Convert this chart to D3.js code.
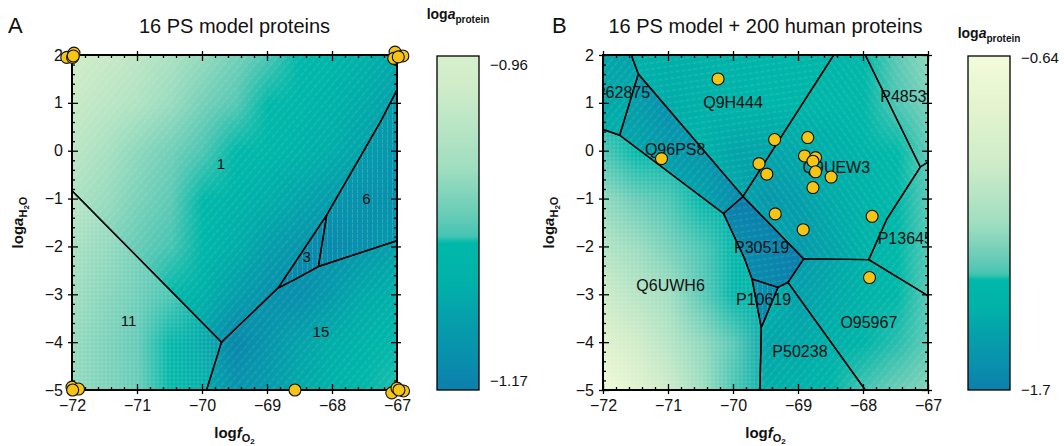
<!DOCTYPE html>
<html>
<head>
<meta charset="utf-8">
<script src="https://cdn.jsdelivr.net/npm/d3@7"></script>
<style>
  body { margin: 0; background: #fff; }
  text { font-family: "Liberation Sans", Arial, sans-serif; }
</style>
</head>
<body>
<div id="chart"></div>
<script>
// axis ticks
const xTicks = [-72, -71, -70, -69, -68, -67];
const yTicks = [2, 1, 0, -1, -2, -3, -4, -5];

// grid of the raster (logfO2 columns, logaH2O rows)
const gridX = [-72, -71.5, -71, -70.5, -70, -69.5, -69, -68.5, -68, -67.5, -67];
const gridY = [2, 1, 0, -1, -2, -3, -4, -5];

// loga(protein)
const fieldA = [
  [-0.974, -0.987, -1.0, -1.018, -1.036, -1.053, -1.07, -1.079, -1.087, -1.1, -1.114],
  [-0.987, -1.0, -1.013, -1.033, -1.053, -1.066, -1.078, -1.087, -1.097, -1.11, -1.122],
  [-1.0, -1.02, -1.04, -1.055, -1.07, -1.078, -1.085, -1.096, -1.108, -1.12, -1.13],
  [-1.015, -1.033, -1.05, -1.063, -1.078, -1.092, -1.105, -1.118, -1.13, -1.135, -1.135],
  [-1.03, -1.045, -1.06, -1.072, -1.085, -1.105, -1.125, -1.14, -1.145, -1.135, -1.12],
  [-1.038, -1.052, -1.065, -1.08, -1.1, -1.125, -1.145, -1.15, -1.13, -1.11, -1.1],
  [-1.045, -1.057, -1.07, -1.09, -1.12, -1.16, -1.14, -1.12, -1.105, -1.092, -1.08],
  [-1.045, -1.057, -1.068, -1.088, -1.11, -1.14, -1.13, -1.11, -1.095, -1.085, -1.075]
];

// loga(protein) (darker fields add their own offset below)
const fieldB = [
  [-1.41, -1.44, -1.45, -1.43, -1.41, -1.40, -1.39, -1.38, -1.36, -1.30, -1.20],
  [-1.41, -1.38, -1.47, -1.43, -1.40, -1.39, -1.38, -1.38, -1.36, -1.32, -1.25],
  [-1.33, -1.35, -1.40, -1.42, -1.50, -1.50, -1.48, -1.45, -1.40, -1.35, -1.29],
  [-1.20, -1.28, -1.33, -1.36, -1.47, -1.58, -1.53, -1.47, -1.42, -1.36, -1.30],
  [-1.10, -1.18, -1.26, -1.33, -1.38, -1.41, -1.56, -1.50, -1.42, -1.35, -1.31],
  [-0.99, -1.08, -1.17, -1.30, -1.38, -1.40, -1.52, -1.48, -1.42, -1.36, -1.30],
  [-0.84, -0.96, -1.085, -1.20, -1.31, -1.50, -1.48, -1.44, -1.40, -1.34, -1.29],
  [-0.67, -0.83, -0.99, -1.17, -1.33, -1.45, -1.42, -1.37, -1.33, -1.27, -1.23]
];

const rangeA = [-0.96, -1.17];
const rangeB = [-0.64, -1.7];

// stability fields, panel A
const namesA = ["1", "11", "15", "3", "6"];
const labelPosA = [[-69.71, -0.26], [-71.13, -3.54], [-68.17, -3.78], [-68.39, -2.21], [-67.47, -1.01]];
const polysA = [
  [[-72, 2], [-67, 2], [-67, 1.27], [-67.24, 0.64], [-68.08, -1.34], [-68.83, -2.87], [-69.7, -4.0], [-72, -0.835]],
  [[-72, -0.835], [-69.7, -4.0], [-69.93, -5], [-72, -5]],
  [[-69.7, -4.0], [-68.83, -2.87], [-68.57, -2.69], [-68.21, -2.42], [-67, -1.88], [-67, -5], [-69.93, -5]],
  [[-68.83, -2.87], [-68.08, -1.34], [-68.21, -2.42], [-68.57, -2.69]],
  [[-68.08, -1.34], [-67.24, 0.64], [-67, 1.27], [-67, -1.88], [-68.21, -2.42]]
];
const hatchA = ["diag", "grid", "diag", "vert", "vert"];
const offsetA = [0, 0.008, 0, -0.012, -0.01];

// stability fields, panel B
const namesB = ["P62875", "Q9H444", "Q96PS8", "Q6UWH6", "P30519", "P10619", "P50238", "O95967", "P13645", "Q9UEW3", "P48539"];
const labelPosB = [[-71.70, 1.23], [-70.0, 1.02], [-70.89, 0.04], [-70.96, -2.81], [-69.56, -2.02], [-69.53, -3.10],
                   [-68.97, -4.20], [-67.91, -3.59], [-67.35, -1.83], [-68.41, -0.35], [-67.31, 1.13]];
const polysB = [
  [[-72, 2], [-71.565, 2], [-71.457, 1.602], [-71.743, 0.323], [-72, 0.443]],
  [[-71.565, 2], [-68.451, 2], [-69.846, -0.955], [-71.457, 1.602]],
  [[-71.457, 1.602], [-69.846, -0.955], [-70.146, -1.312], [-71.743, 0.323]],
  [[-72, 0.443], [-71.743, 0.323], [-70.146, -1.312], [-69.82, -2.261], [-69.708, -2.68], [-69.565, -3.695], [-69.585, -5], [-72, -5]],
  [[-70.146, -1.312], [-69.846, -0.955], [-68.912, -2.261], [-69.154, -2.752], [-69.308, -2.856], [-69.708, -2.68], [-69.82, -2.261]],
  [[-69.708, -2.68], [-69.308, -2.856], [-69.565, -3.695]],
  [[-69.565, -3.695], [-69.308, -2.856], [-69.154, -2.752], [-67.965, -5], [-69.585, -5]],
  [[-69.154, -2.752], [-68.912, -2.261], [-67.912, -2.276], [-67, -3.03], [-67, -5], [-67.965, -5]],
  [[-67.912, -2.276], [-67.631, -1.423], [-67.119, -0.341], [-67, -0.236], [-67, -3.03]],
  [[-68.451, 2], [-67.965, 2], [-67.119, -0.341], [-67.631, -1.423], [-67.912, -2.276], [-68.912, -2.261], [-69.846, -0.955]],
  [[-67.965, 2], [-67, 2], [-67, -0.236], [-67.119, -0.341]]
];
const hatchB = ["diag", "horiz", "diag", "grid", "horiz", "vert", "diag", "diag", "diag", "back", "back"];
const offsetB = [-0.08, 0, -0.15, 0, -0.25, -0.22, 0, 0, 0, 0, 0];

// optimal points of the 16 PS model proteins
const pointsA = [
  [-72.08, 1.95], [-71.97, 2.04], [-71.99, 1.95], [-71.98, 1.98],
  [-67.03, 2.06], [-67.05, 1.93], [-66.91, 1.98], [-66.98, 1.96],
  [-72.0, -4.94], [-71.9, -4.98], [-71.99, -5.0],
  [-68.57, -5.0],
  [-67.08, -5.06], [-67.0, -4.96], [-66.9, -5.02], [-66.97, -5.0]
];
const pointsB = [
  [-70.23, 1.50], [-71.10, -0.165], [-69.60, -0.27], [-69.48, -0.49], [-69.36, 0.233], [-68.85, 0.275],
  [-68.90, -0.11], [-68.73, -0.144], [-68.77, -0.22], [-68.73, -0.44], [-68.49, -0.55], [-68.77, -0.77],
  [-69.35, -1.32], [-68.92, -1.65], [-67.86, -1.37], [-67.90, -2.65]
];

// colour ramp (light yellow -> teal -> blue)
const paletteStops = [0, 0.15, 0.33, 0.5, 0.6, 0.655, 0.668, 0.76, 0.83, 0.93, 1];
const paletteColors = ["#f3fbda", "#e4f4cf", "#cdebc8", "#a0dec0", "#6ccdb8", "#45c4b3", "#00b9a9", "#01b1a9", "#05a1ab", "#098fad", "#0c7fac"];
const palette = d3.scaleLinear().domain(paletteStops).range(paletteColors).interpolate(d3.interpolateRgb).clamp(true);

const svg = d3.select("#chart").append("svg")
    .attr("width", 1064)
    .attr("height", 446);

const defs = svg.append("defs");

// hatch textures
function addPattern(id, size, transform, draw) {
  const p = defs.append("pattern")
      .attr("id", id)
      .attr("patternUnits", "userSpaceOnUse")
      .attr("width", size).attr("height", size);
  if (transform) p.attr("patternTransform", transform);
  draw(p);
}
const hatchStyle = s => s.attr("stroke", "#fff").attr("stroke-opacity", 0.2).attr("stroke-width", 0.8);
addPattern("hatch-diag", 6, "rotate(40)", p => hatchStyle(p.append("line").attr("x1", 3).attr("y1", 0).attr("x2", 3).attr("y2", 6).attr("stroke-dasharray", "3,1.5")));
addPattern("hatch-back", 6, "rotate(-35)", p => hatchStyle(p.append("line").attr("x1", 3).attr("y1", 0).attr("x2", 3).attr("y2", 6).attr("stroke-dasharray", "3,1.5")));
addPattern("hatch-vert", 5, null, p => hatchStyle(p.append("line").attr("x1", 2.5).attr("y1", 0).attr("x2", 2.5).attr("y2", 5).attr("stroke-dasharray", "3,1")));
addPattern("hatch-horiz", 6, "rotate(-8)", p => hatchStyle(p.append("line").attr("x1", 0).attr("y1", 3).attr("x2", 6).attr("y2", 3).attr("stroke-dasharray", "3,2")));
addPattern("hatch-grid", 4, null, p => {
  hatchStyle(p.append("line").attr("x1", 2).attr("y1", 0).attr("x2", 2).attr("y2", 4)).attr("stroke-opacity", 0.16);
  hatchStyle(p.append("line").attr("x1", 0).attr("y1", 2).attr("x2", 4).attr("y2", 2)).attr("stroke-opacity", 0.16);
});

const plotTop = 55, plotBottom = 390, plotW = 325;

function drawPanel(cfg) {
  const g = svg.append("g");
  const x = d3.scaleLinear().domain([-72, -67]).range([cfg.left, cfg.left + plotW]);
  const y = d3.scaleLinear().domain([-5, 2]).range([plotBottom, plotTop]);
  const t = d3.scaleLinear().domain(cfg.range).range([cfg.t0, 1]).clamp(true);
  const colour = v => palette(t(v));
  const line = d3.line().x(d => x(d[0])).y(d => y(d[1]));

  defs.append("clipPath").attr("id", "clip" + cfg.id)
    .append("rect").attr("x", cfg.left).attr("y", plotTop).attr("width", plotW).attr("height", plotBottom - plotTop);

  // raster of the field (plus a per-field offset), smoothed by the canvas upscale
  const cols = gridX.length, rows = gridY.length;
  const cw = x(gridX[1]) - x(gridX[0]), ch = y(gridY[1]) - y(gridY[0]);
  function raster(offset) {
    const small = document.createElement("canvas");
    small.width = cols; small.height = rows;
    const sctx = small.getContext("2d");
    const img = sctx.createImageData(cols, rows);
    cfg.field.forEach((row, j) => row.forEach((v, i) => {
      const c = d3.rgb(colour(v + offset));
      const k = (j * cols + i) * 4;
      img.data[k] = c.r; img.data[k + 1] = c.g; img.data[k + 2] = c.b; img.data[k + 3] = 255;
    }));
    sctx.putImageData(img, 0, 0);
    const big = document.createElement("canvas");
    big.width = plotW; big.height = plotBottom - plotTop;
    const bctx = big.getContext("2d");
    bctx.imageSmoothingEnabled = true;
    bctx.drawImage(small, x(gridX[0]) - cw / 2 - cfg.left, y(gridY[0]) - ch / 2 - plotTop, cw * cols, ch * rows);
    return big.toDataURL();
  }
  const rasterG = g.append("g").attr("clip-path", `url(#clip${cfg.id})`);
  cfg.polys.forEach((poly, i) => {
    const cid = `field${cfg.id}${i}`;
    defs.append("clipPath").attr("id", cid).append("path").attr("d", line(poly) + "Z");
    rasterG.append("image")
      .attr("x", cfg.left).attr("y", plotTop)
      .attr("width", plotW).attr("height", plotBottom - plotTop)
      .attr("preserveAspectRatio", "none")
      .attr("clip-path", `url(#${cid})`)
      .attr("href", raster(cfg.offset[i]));
  });

  // fields with texture and boundaries
  const fields = g.append("g").attr("clip-path", `url(#clip${cfg.id})`);
  fields.selectAll("path")
    .data(cfg.polys)
    .join("path")
      .attr("d", d => line(d) + "Z")
      .attr("fill", (d, i) => `url(#hatch-${cfg.hatch[i]})`)
      .attr("stroke", "#000")
      .attr("stroke-width", 1.4)
      .attr("stroke-linejoin", "round");

  fields.selectAll("text")
    .data(cfg.names)
    .join("text")
      .attr("x", (d, i) => x(cfg.labelPos[i][0]))
      .attr("y", (d, i) => y(cfg.labelPos[i][1]))
      .attr("dy", "0.36em")
      .attr("text-anchor", "middle")
      .attr("font-size", cfg.labelSize)
      .attr("fill", "#111")
      .text(d => d);

  // axes: majors cross the frame, minors point inward
  const minorX = d3.range(-72, -66.99, 0.2).filter(v => Math.abs(v - Math.round(v)) > 0.01);
  const minorY = d3.range(-5, 2.01, 0.2).filter(v => Math.abs(v - Math.round(v)) > 0.01);
  const tickG = (axis, tr) => g.append("g").attr("transform", tr).call(axis)
      .call(s => s.select(".domain").remove())
      .call(s => s.selectAll("line").attr("stroke", "#000").attr("stroke-width", 1.3));
  const xb = `translate(0,${plotBottom})`, xt = `translate(0,${plotTop})`;
  const yl = `translate(${cfg.left},0)`, yr = `translate(${cfg.left + plotW},0)`;
  tickG(d3.axisBottom(x).tickValues(xTicks).tickSize(4).tickPadding(6).tickFormat(d3.format("d")), xb)
    .selectAll("text").attr("font-size", 16).attr("font-family", "Liberation Sans, Arial, sans-serif").attr("fill", "#111");
  tickG(d3.axisTop(x).tickValues(xTicks).tickSize(6).tickFormat(""), xb);
  tickG(d3.axisTop(x).tickValues(minorX).tickSize(3).tickFormat(""), xb);
  tickG(d3.axisTop(x).tickValues(xTicks).tickSize(4).tickFormat(""), xt);
  tickG(d3.axisBottom(x).tickValues(xTicks).tickSize(6).tickFormat(""), xt);
  tickG(d3.axisBottom(x).tickValues(minorX).tickSize(3).tickFormat(""), xt);
  tickG(d3.axisLeft(y).tickValues(yTicks).tickSize(4).tickPadding(5).tickFormat(d3.format("d")), yl)
    .selectAll("text").attr("font-size", 16).attr("font-family", "Liberation Sans, Arial, sans-serif").attr("fill", "#111");
  tickG(d3.axisRight(y).tickValues(yTicks).tickSize(6).tickFormat(""), yl);
  tickG(d3.axisRight(y).tickValues(minorY).tickSize(3).tickFormat(""), yl);
  tickG(d3.axisRight(y).tickValues(yTicks).tickSize(4).tickFormat(""), yr);
  tickG(d3.axisLeft(y).tickValues(yTicks).tickSize(6).tickFormat(""), yr);
  tickG(d3.axisLeft(y).tickValues(minorY).tickSize(3).tickFormat(""), yr);

  g.append("rect")
    .attr("x", cfg.left).attr("y", plotTop)
    .attr("width", plotW).attr("height", plotBottom - plotTop)
    .attr("fill", "none").attr("stroke", "#000").attr("stroke-width", 2);

  // optimal points
  g.append("g").selectAll("circle")
    .data(cfg.points)
    .join("circle")
      .attr("cx", d => x(d[0]))
      .attr("cy", d => y(d[1]))
      .attr("r", 6)
      .attr("fill", "#f6c414")
      .attr("stroke", "#111")
      .attr("stroke-width", 1.1);

  // titles
  g.append("text").attr("x", cfg.letterX).attr("y", 33).attr("font-size", 22).attr("fill", "#111").text(cfg.id);
  g.append("text").attr("x", x(-69.5)).attr("y", 33).attr("text-anchor", "middle")
    .attr("font-size", 20).attr("fill", "#111").text(cfg.title);

  // x label: log f O2
  const xl = g.append("text").attr("x", x(-69.5)).attr("y", 438).attr("text-anchor", "middle")
    .attr("font-size", 15).attr("font-weight", "bold").attr("fill", "#111");
  xl.append("tspan").text("log");
  xl.append("tspan").attr("font-style", "italic").text("f");
  xl.append("tspan").attr("font-size", 11).attr("dy", 4).text("O");
  xl.append("tspan").attr("font-size", 8).attr("dy", 2).text("2");

  // y label: log a H2O
  const ylab = g.append("text")
    .attr("transform", `translate(${cfg.left - 49},${y(-1.5)}) rotate(-90)`)
    .attr("text-anchor", "middle")
    .attr("font-size", 15).attr("font-weight", "bold").attr("fill", "#111");
  ylab.append("tspan").text("log");
  ylab.append("tspan").attr("font-style", "italic").text("a");
  ylab.append("tspan").attr("font-size", 11).attr("dy", 4).text("H");
  ylab.append("tspan").attr("font-size", 8).attr("dy", 2).text("2");
  ylab.append("tspan").attr("font-size", 11).attr("dy", -2).text("O");

  // colour bar
  const gid = "grad" + cfg.id;
  const grad = defs.append("linearGradient").attr("id", gid)
    .attr("x1", 0).attr("y1", 0).attr("x2", 0).attr("y2", 1);
  grad.selectAll("stop")
    .data(d3.range(0, 1.0001, 0.01))
    .join("stop")
      .attr("offset", d => d)
      .attr("stop-color", d => palette(cfg.t0 + (1 - cfg.t0) * d));
  const barY = d3.scaleLinear().domain([0, 1]).range([56, plotBottom]);
  g.append("rect")
    .attr("x", cfg.barX).attr("y", barY(0))
    .attr("width", 42).attr("height", barY(1) - barY(0))
    .attr("fill", `url(#${gid})`)
    .attr("stroke", "#000").attr("stroke-width", 1.3);
  const bt = g.append("text").attr("x", cfg.barX + 21).attr("y", cfg.barTitleY).attr("text-anchor", "middle")
    .attr("font-size", 14).attr("font-weight", "bold").attr("fill", "#111");
  bt.append("tspan").text("log");
  bt.append("tspan").attr("font-style", "italic").text("a");
  bt.append("tspan").attr("font-size", 10).attr("dy", 4).text("protein");
  g.selectAll(".barlab")
    .data(cfg.range)
    .join("text")
      .attr("class", "barlab")
      .attr("x", cfg.barX + 53)
      .attr("y", (d, i) => cfg.barLabelY[i])
      .attr("dy", "0.36em")
      .attr("font-size", 15)
      .attr("fill", "#111")
      .text(d => d3.format("")(d).replace("-", "\u2212"));
}

drawPanel({
  id: "A", title: "16 PS model proteins", left: 72, letterX: 8,
  field: fieldA, range: rangeA, t0: 0.25, offset: offsetA,
  polys: polysA, hatch: hatchA, names: namesA, labelPos: labelPosA, labelSize: 15,
  points: pointsA, barX: 437, barTitleY: 19, barLabelY: [65, 381]
});
drawPanel({
  id: "B", title: "16 PS model + 200 human proteins", left: 603, letterX: 552,
  field: fieldB, range: rangeB, t0: 0, offset: offsetB,
  polys: polysB, hatch: hatchB, names: namesB, labelPos: labelPosB, labelSize: 16,
  points: pointsB, barX: 968, barTitleY: 38, barLabelY: [58, 390]
});
</script>
</body>
</html>
